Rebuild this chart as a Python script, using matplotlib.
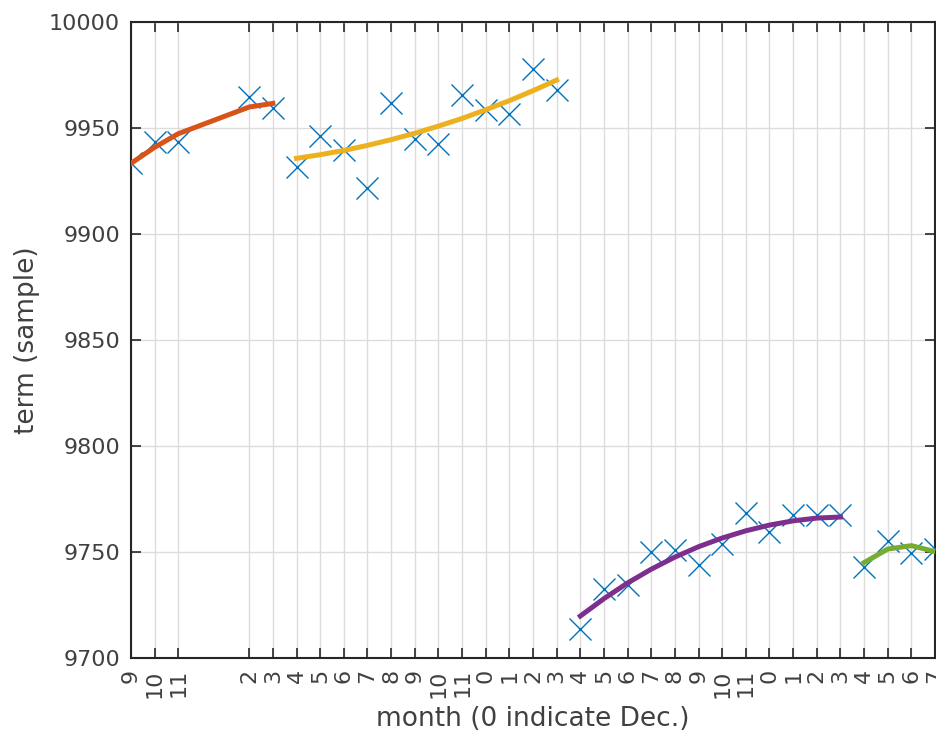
import matplotlib.pyplot as plt
import numpy as np

# elapsed months since the first sample, and calendar month (0 = Dec.)
elapsed = [0, 1, 2, 5, 6, 7, 8, 9, 10, 11, 12, 13, 14, 15, 16, 17, 18,
           19, 20, 21, 22, 23, 24, 25, 26, 27, 28, 29, 30, 31, 32, 33, 34]
month_labels = ["9", "10", "11", "2", "3", "4", "5", "6", "7", "8", "9", "10",
                "11", "0", "1", "2", "3", "4", "5", "6", "7", "8", "9", "10",
                "11", "0", "1", "2", "3", "4", "5", "6", "7"]

# measured term per month
term = [9933.3, 9943.2, 9943.2, 9964.8, 9959.3, 9931.8, 9946.2, 9939.6,
        9921.5, 9961.6, 9945.0, 9942.3, 9965.6, 9958.5, 9956.4, 9977.7,
        9967.9, 9713.5, 9732.4, 9734.4, 9750.1, 9750.9, 9743.9, 9754.0,
        9768.5, 9759.6, 9767.5, 9767.5, 9767.5, 9743.0, 9755.2, 9749.5,
        9751.4]

# fitted trend for each segment
fit1_x = [0, 1, 2, 5, 6]
fit1_y = [9933.3, 9940.9, 9947.3, 9959.9, 9961.6]

fit2_x = [7, 8, 9, 10, 11, 12, 13, 14, 15, 16, 17, 18]
fit2_y = [9935.7, 9937.4, 9939.4, 9941.8, 9944.5, 9947.5, 9950.9, 9954.5,
          9958.6, 9962.9, 9967.6, 9972.6]

fit3_x = [19, 20, 21, 22, 23, 24, 25, 26, 27, 28, 29, 30]
fit3_y = [9719.8, 9728.0, 9735.4, 9741.9, 9747.6, 9752.5, 9756.6, 9760.0,
          9762.7, 9764.7, 9766.0, 9766.5]

fit4_x = [31, 32, 33, 34]
fit4_y = [9745.0, 9751.4, 9753.0, 9750.2]

plt.rcParams["font.family"] = ["DejaVu Sans", "Noto Sans CJK JP"]
text_color = "#404040"
axis_color = "#262626"

fig = plt.figure(figsize=(9.37, 7.33), dpi=100)
ax = fig.add_axes([0.1398, 0.1023, 0.8581, 0.8677])

ax.plot(elapsed, term, linestyle="none", marker="x", markersize=16,
        markeredgewidth=1.0, color="#0072BD", zorder=3)

ax.plot(fit1_x, fit1_y, color="#D95319", lw=3.6, zorder=4)
ax.plot(fit2_x, fit2_y, color="#EDB120", lw=3.6, zorder=4)
ax.plot(fit3_x, fit3_y, color="#7E2F8E", lw=3.6, zorder=4)
ax.plot(fit4_x, fit4_y, color="#77AC30", lw=3.6, zorder=4)

ax.set_xlim(0, 34)
ax.set_ylim(9700, 10000)
ax.set_xticks(elapsed)
ax.set_xticklabels(month_labels, rotation=90)
ax.set_yticks(np.arange(9700, 10001, 50))

ax.grid(True, color="#DCDCDC", linewidth=1.0)
ax.set_axisbelow(True)

ax.tick_params(direction="in", length=7, width=1.2, colors=axis_color,
               labelcolor=text_color, labelsize=16, top=True, right=True)
ax.tick_params(axis="x", pad=8)
ax.tick_params(axis="y", pad=8)
for spine in ax.spines.values():
    spine.set_color(axis_color)
    spine.set_linewidth(1.5)

ax.set_xlabel("month (0 indicate Dec.)", fontsize=19, color=text_color,
              labelpad=6)
ax.set_ylabel("term (sample)", fontsize=19, color=text_color, labelpad=6)

fig.savefig("out.png", dpi=100)
